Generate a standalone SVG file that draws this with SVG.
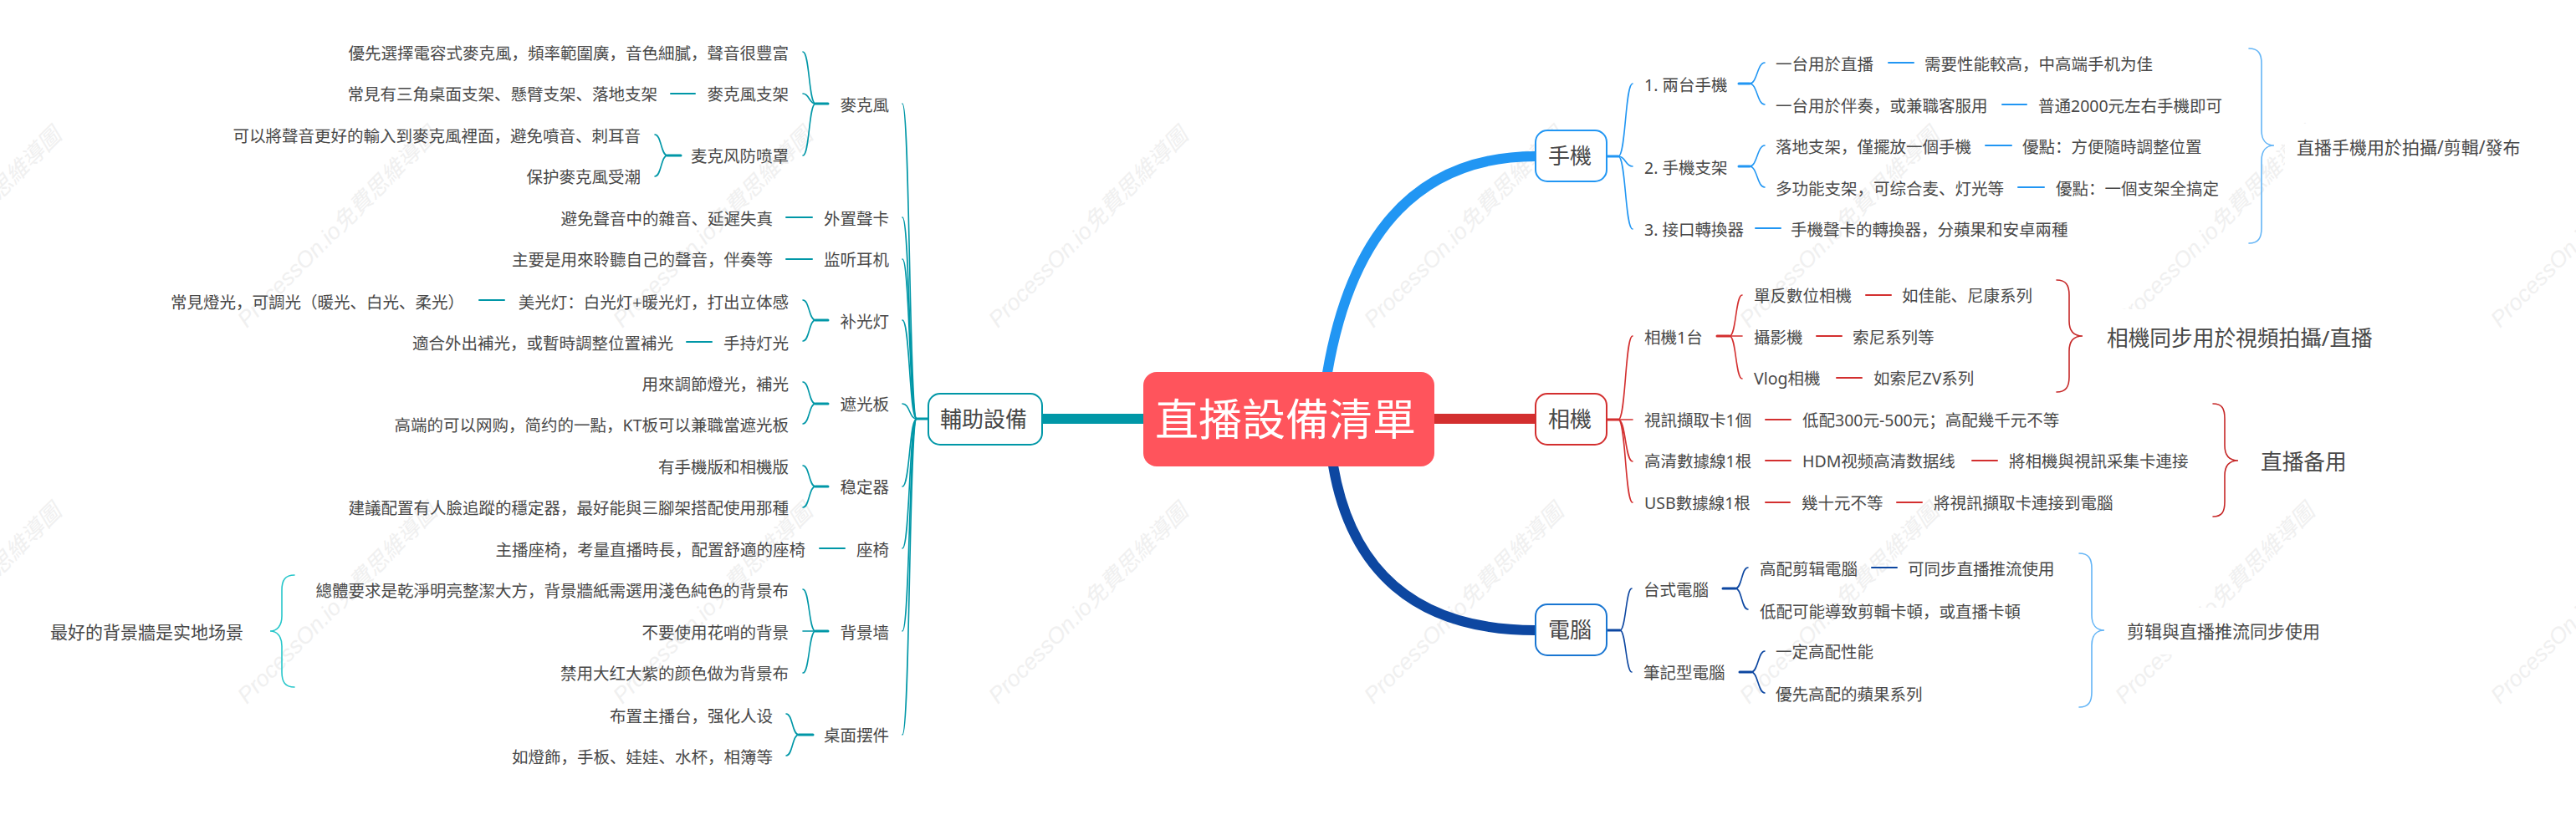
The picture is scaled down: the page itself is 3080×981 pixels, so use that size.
<svg xmlns="http://www.w3.org/2000/svg" width="3080" height="981" viewBox="0 0 3080 981">
<style>
text{font-family:"Noto Sans","Noto Sans CJK SC","Noto Sans CJK TC",sans-serif;fill:#484848}
.t{font-size:19.5px}
.e{font-size:19.5px;text-anchor:end}
.s{font-size:21px}
.b{font-size:25.7px}
.n{font-size:26px;text-anchor:middle}
.r{font-size:52px;text-anchor:middle;fill:#fff}
.w{font-family:"Liberation Sans","Noto Sans CJK SC",sans-serif;font-size:27px;font-style:italic;fill:#f0f0f0}
.box{fill:#fff;stroke-width:2}
path{fill:none;stroke-linecap:round}
.th{stroke-width:12;stroke-linecap:butt}
.bl path{stroke:#2196F3}.re path{stroke:#D32F2F}.db path{stroke:#0D47A1}.te path{stroke:#0097A7}
.c{stroke-width:1.6}.h{stroke-width:3}.d{stroke-width:2}
.br{stroke-width:1.6}
</style>
<g id="watermarks">
<text class="w" transform="translate(-154 393) rotate(-45)">ProcessOn.io免費思維導圖</text>
<text class="w" transform="translate(295 393) rotate(-45)">ProcessOn.io免費思維導圖</text>
<text class="w" transform="translate(744 393) rotate(-45)">ProcessOn.io免費思維導圖</text>
<text class="w" transform="translate(1193 393) rotate(-45)">ProcessOn.io免費思維導圖</text>
<text class="w" transform="translate(1642 393) rotate(-45)">ProcessOn.io免費思維導圖</text>
<text class="w" transform="translate(2091 393) rotate(-45)">ProcessOn.io免費思維導圖</text>
<text class="w" transform="translate(2540 393) rotate(-45)">ProcessOn.io免費思維導圖</text>
<text class="w" transform="translate(2989 393) rotate(-45)">ProcessOn.io免費思維導圖</text>
<text class="w" transform="translate(-154 843) rotate(-45)">ProcessOn.io免費思維導圖</text>
<text class="w" transform="translate(295 843) rotate(-45)">ProcessOn.io免費思維導圖</text>
<text class="w" transform="translate(744 843) rotate(-45)">ProcessOn.io免費思維導圖</text>
<text class="w" transform="translate(1193 843) rotate(-45)">ProcessOn.io免費思維導圖</text>
<text class="w" transform="translate(1642 843) rotate(-45)">ProcessOn.io免費思維導圖</text>
<text class="w" transform="translate(2091 843) rotate(-45)">ProcessOn.io免費思維導圖</text>
<text class="w" transform="translate(2540 843) rotate(-45)">ProcessOn.io免費思維導圖</text>
<text class="w" transform="translate(2989 843) rotate(-45)">ProcessOn.io免費思維導圖</text>
</g>
<g id="summary-backgrounds" fill="#fff">
<rect x="2732" y="148" width="300" height="56"/>
<rect x="2505" y="370" width="345" height="70"/>
<rect x="2690" y="518" width="128" height="70"/>
<rect x="2529" y="727" width="258" height="56"/>
<rect x="46" y="728" width="258" height="56"/>
</g>
<g id="connectors">
<g class="bl">
<path class="th" d="M1587 446C1612 300 1680 187 1836 187"/>
<path class="h" d="M1921 187H1935"/>
<path class="c" d="M1935 187C1944 187 1943 100 1952 100"/>
<path class="c" d="M1935 187C1944 187 1943 199 1952 199"/>
<path class="c" d="M1935 187C1944 187 1943 274 1952 274"/>
<path class="h" d="M2079 100H2092"/>
<path class="c" d="M2092 100C2101 100 2101 75 2110 75"/>
<path class="c" d="M2092 100C2101 100 2101 125 2110 125"/>
<path class="h" d="M2079 199H2092"/>
<path class="c" d="M2092 199C2101 199 2101 174 2110 174"/>
<path class="c" d="M2092 199C2101 199 2101 224 2110 224"/>
<path class="d" d="M2258 75H2288"/>
<path class="d" d="M2394 125H2423"/>
<path class="d" d="M2374 174H2405"/>
<path class="d" d="M2413 224H2444"/>
<path class="d" d="M2099 273H2129"/>
</g>
<g class="re">
<path class="th" d="M1715 501H1836"/>
<path class="h" d="M1921 502H1935"/>
<path class="c" d="M1935 502C1944 502 1943 402 1952 402"/>
<path class="c" d="M1935 502H1952"/>
<path class="c" d="M1935 502C1944 502 1943 552 1952 552"/>
<path class="c" d="M1935 502C1944 502 1943 601 1952 601"/>
<path class="h" d="M2053 402H2068"/>
<path class="c" d="M2068 402C2076 402 2075 353 2083 353"/>
<path class="c" d="M2068 402H2083"/>
<path class="c" d="M2068 402C2076 402 2075 453 2083 453"/>
<path class="d" d="M2231 353H2261"/>
<path class="d" d="M2172 402H2202"/>
<path class="d" d="M2196 452H2226"/>
<path class="d" d="M2111 502H2141"/>
<path class="d" d="M2111 551H2141"/>
<path class="d" d="M2358 551H2388"/>
<path class="d" d="M2111 601H2140"/>
<path class="d" d="M2268 601H2298"/>
</g>
<g class="db">
<path class="th" d="M1594 557C1615 680 1690 754 1836 754"/>
<path class="h" d="M1921 754H1937"/>
<path class="c" d="M1937 754C1944 754 1944 704 1951 704"/>
<path class="c" d="M1937 754C1944 754 1944 804 1951 804"/>
<path class="h" d="M2060 704H2075"/>
<path class="c" d="M2075 704C2083 704 2082 679 2090 679"/>
<path class="c" d="M2075 704C2083 704 2082 729 2090 729"/>
<path class="h" d="M2080 804H2094"/>
<path class="c" d="M2094 804C2102 804 2102 779 2110 779"/>
<path class="c" d="M2094 804C2102 804 2102 829 2110 829"/>
<path class="d" d="M2238 679H2268"/>
</g>
<g class="te">
<path class="th" d="M1246 501H1367"/>
<path class="h" d="M1110 501H1096"/>
<path class="c" d="M1096 501C1087 501 1088 124 1079 124"/>
<path class="c" d="M1096 501C1087 501 1088 260 1079 260"/>
<path class="c" d="M1096 501C1087 501 1088 310 1079 310"/>
<path class="c" d="M1096 501C1087 501 1088 383 1079 383"/>
<path class="c" d="M1096 501C1087 501 1088 483 1079 483"/>
<path class="c" d="M1096 501C1087 501 1088 582 1079 582"/>
<path class="c" d="M1096 501C1087 501 1088 656 1079 656"/>
<path class="c" d="M1096 501C1087 501 1088 755 1079 755"/>
<path class="c" d="M1096 501C1087 501 1088 879 1079 879"/>
<path class="h" d="M990 124H975"/>
<path class="c" d="M975 124C967 124 968 62 960 62"/>
<path class="c" d="M975 124C967 124 968 112 960 112"/>
<path class="c" d="M975 124C967 124 968 186 960 186"/>
<path class="h" d="M814 186H798"/>
<path class="c" d="M798 186C790 186 791 161 783 161"/>
<path class="c" d="M798 186C790 186 791 211 783 211"/>
<path class="d" d="M802 112H831"/>
<path class="d" d="M940 260H971"/>
<path class="d" d="M940 310H971"/>
<path class="h" d="M990 383H975"/>
<path class="c" d="M975 383C967 383 968 359 960 359"/>
<path class="c" d="M975 383C967 383 968 408 960 408"/>
<path class="d" d="M573 359H603"/>
<path class="d" d="M821 409H851"/>
<path class="h" d="M990 483H975"/>
<path class="c" d="M975 483C967 483 968 457 960 457"/>
<path class="c" d="M975 483C967 483 968 507 960 507"/>
<path class="h" d="M990 582H975"/>
<path class="c" d="M975 582C967 582 968 557 960 557"/>
<path class="c" d="M975 582C967 582 968 607 960 607"/>
<path class="d" d="M980 656H1010"/>
<path class="h" d="M990 755H975"/>
<path class="c" d="M975 755C967 755 968 705 960 705"/>
<path class="c" d="M975 755H960"/>
<path class="c" d="M975 755C967 755 968 805 960 805"/>
<path class="h" d="M972 879H955"/>
<path class="c" d="M955 879C947 879 948 854 940 854"/>
<path class="c" d="M955 879C947 879 948 904 940 904"/>
</g>
<g id="summary-braces">
<path class="br" stroke="#64B5F6" d="M2689 58C2700 58 2704 64 2704 76V156C2704 168 2710 174 2719 174C2710 174 2704 180 2704 192V273C2704 285 2700 291 2689 291"/>
<path class="br" stroke="#C62828" d="M2459 335C2470 335 2474 341 2474 353V384C2474 396 2480 402 2490 402C2480 402 2474 408 2474 420V451C2474 463 2470 469 2459 469"/>
<path class="br" stroke="#C62828" d="M2646 483C2657 483 2660 489 2660 501V533C2660 545 2666 551 2676 551C2666 551 2660 557 2660 569V600C2660 612 2657 618 2646 618"/>
<path class="br" stroke="#64B5F6" d="M2486 662C2497 662 2501 668 2501 680V736C2501 748 2507 754 2516 754C2507 754 2501 760 2501 772V828C2501 840 2497 846 2486 846"/>
<path class="br" stroke="#26C6CA" d="M352 688C341 688 337 694 337 706V737C337 749 331 755 323 755C331 755 337 761 337 773V804C337 816 341 822 352 822"/>
</g>
</g>
<g id="root"><rect x="1367" y="445" width="348" height="113" rx="16" fill="#FF545C"/><text class="r" x="1537" y="521">直播設備清單</text></g>
<g id="n-phone"><rect class="box" x="1836" y="156" width="85" height="61" rx="14" stroke="#2196F3"/><text class="n" x="1877" y="196">手機</text></g>
<g id="n-camera"><rect class="box" x="1836" y="471" width="85" height="61" rx="14" stroke="#D32F2F"/><text class="n" x="1877" y="511">相機</text></g>
<g id="n-pc"><rect class="box" x="1836" y="723" width="85" height="61" rx="14" stroke="#1976D2"/><text class="n" x="1877" y="763">電腦</text></g>
<g id="n-aux"><rect class="box" x="1110" y="471" width="136" height="61" rx="14" stroke="#0097A7"/><text class="n" x="1176" y="511">輔助設備</text></g>

<g id="phone-1"><text class="t" x="1966" y="109">1. 兩台手機</text></g>
<g id="phone-1a"><text class="t" x="2123" y="84">一台用於直播</text></g>
<g id="phone-1a1"><text class="t" x="2301" y="84">需要性能較高，中高端手机为佳</text></g>
<g id="phone-1b"><text class="t" x="2123" y="134">一台用於伴奏，或兼職客服用</text></g>
<g id="phone-1b1"><text class="t" x="2437" y="134">普通2000元左右手機即可</text></g>
<g id="phone-2"><text class="t" x="1966" y="208">2. 手機支架</text></g>
<g id="phone-2a"><text class="t" x="2123" y="183">落地支架，僅擺放一個手機</text></g>
<g id="phone-2a1"><text class="t" x="2418" y="183">優點：方便隨時調整位置</text></g>
<g id="phone-2b"><text class="t" x="2123" y="233">多功能支架，可综合麦、灯光等</text></g>
<g id="phone-2b1"><text class="t" x="2458" y="233">優點：一個支架全搞定</text></g>
<g id="phone-3"><text class="t" x="1966" y="282">3. 接口轉換器</text></g>
<g id="phone-3a"><text class="t" x="2141" y="282">手機聲卡的轉換器，分蘋果和安卓兩種</text></g>
<g id="phone-sum"><text class="s" x="2746" y="184">直播手機用於拍攝/剪輯/發布</text></g>

<g id="cam-1"><text class="t" x="1966" y="411">相機1台</text></g>
<g id="cam-1a"><text class="t" x="2097" y="361">單反數位相機</text></g>
<g id="cam-1a1"><text class="t" x="2274" y="361">如佳能、尼康系列</text></g>
<g id="cam-1b"><text class="t" x="2097" y="411">攝影機</text></g>
<g id="cam-1b1"><text class="t" x="2215" y="411">索尼系列等</text></g>
<g id="cam-1c"><text class="t" x="2097" y="460">Vlog相機</text></g>
<g id="cam-1c1"><text class="t" x="2240" y="460">如索尼ZV系列</text></g>
<g id="cam-sum1"><text class="b" x="2519" y="414">相機同步用於視頻拍攝/直播</text></g>
<g id="cam-2"><text class="t" x="1966" y="510">視訊擷取卡1個</text></g>
<g id="cam-2a"><text class="t" x="2155" y="510">低配300元-500元；高配幾千元不等</text></g>
<g id="cam-3"><text class="t" x="1966" y="559">高清數據線1根</text></g>
<g id="cam-3a"><text class="t" x="2155" y="559">HDM视频高清数据线</text></g>
<g id="cam-3b"><text class="t" x="2402" y="559">將相機與視訊采集卡連接</text></g>
<g id="cam-4"><text class="t" x="1966" y="609">USB數據線1根</text></g>
<g id="cam-4a"><text class="t" x="2154" y="609">幾十元不等</text></g>
<g id="cam-4b"><text class="t" x="2312" y="609">將視訊擷取卡連接到電腦</text></g>
<g id="cam-sum2"><text class="b" x="2703" y="562">直播备用</text></g>

<g id="pc-1"><text class="t" x="1965" y="713">台式電腦</text></g>
<g id="pc-1a"><text class="t" x="2104" y="688">高配剪辑電腦</text></g>
<g id="pc-1a1"><text class="t" x="2281" y="688">可同步直播推流使用</text></g>
<g id="pc-1b"><text class="t" x="2104" y="739">低配可能導致剪輯卡頓，或直播卡頓</text></g>
<g id="pc-2"><text class="t" x="1965" y="812">筆記型電腦</text></g>
<g id="pc-2a"><text class="t" x="2123" y="787">一定高配性能</text></g>
<g id="pc-2b"><text class="t" x="2123" y="838">優先高配的蘋果系列</text></g>
<g id="pc-sum"><text class="s" x="2543" y="763">剪辑與直播推流同步使用</text></g>

<g id="aux-mic"><text class="e" x="1063" y="133">麥克風</text></g>
<g id="aux-mic1"><text class="e" x="943" y="71">優先選擇電容式麥克風，頻率範圍廣，音色細膩，聲音很豐富</text></g>
<g id="aux-mic2"><text class="e" x="943" y="120">麥克風支架</text></g>
<g id="aux-mic2a"><text class="e" x="786" y="120">常見有三角桌面支架、懸臂支架、落地支架</text></g>
<g id="aux-mic3"><text class="e" x="943" y="194">麦克风防喷罩</text></g>
<g id="aux-mic3a"><text class="e" x="766" y="170">可以將聲音更好的輸入到麥克風裡面，避免噴音、刺耳音</text></g>
<g id="aux-mic3b"><text class="e" x="766" y="219">保护麥克風受潮</text></g>
<g id="aux-card"><text class="e" x="1063" y="269">外置聲卡</text></g>
<g id="aux-card1"><text class="e" x="924" y="269">避免聲音中的雜音、延遲失真</text></g>
<g id="aux-ear"><text class="e" x="1063" y="318">监听耳机</text></g>
<g id="aux-ear1"><text class="e" x="924" y="318">主要是用來聆聽自己的聲音，伴奏等</text></g>
<g id="aux-light"><text class="e" x="1063" y="392">补光灯</text></g>
<g id="aux-light1"><text class="e" x="943" y="369">美光灯：白光灯+暖光灯，打出立体感</text></g>
<g id="aux-light1a"><text class="e" x="555" y="369">常見燈光，可調光（暖光、白光、柔光）</text></g>
<g id="aux-light2"><text class="e" x="943" y="418">手持灯光</text></g>
<g id="aux-light2a"><text class="e" x="805" y="418">適合外出補光，或暫時調整位置補光</text></g>
<g id="aux-shade"><text class="e" x="1063" y="491">遮光板</text></g>
<g id="aux-shade1"><text class="e" x="943" y="467">用來調節燈光，補光</text></g>
<g id="aux-shade2"><text class="e" x="943" y="516">高端的可以网购，简约的一點，KT板可以兼職當遮光板</text></g>
<g id="aux-stab"><text class="e" x="1063" y="590">稳定器</text></g>
<g id="aux-stab1"><text class="e" x="943" y="566">有手機版和相機版</text></g>
<g id="aux-stab2"><text class="e" x="943" y="615">建議配置有人臉追蹤的穩定器，最好能與三腳架搭配使用那種</text></g>
<g id="aux-seat"><text class="e" x="1063" y="665">座椅</text></g>
<g id="aux-seat1"><text class="e" x="963" y="665">主播座椅，考量直播時長，配置舒適的座椅</text></g>
<g id="aux-wall"><text class="e" x="1063" y="764">背景墙</text></g>
<g id="aux-wall1"><text class="e" x="943" y="714">總體要求是乾淨明亮整潔大方，背景牆紙需選用淺色純色的背景布</text></g>
<g id="aux-wall2"><text class="e" x="943" y="764">不要使用花哨的背景</text></g>
<g id="aux-wall3"><text class="e" x="943" y="813">禁用大红大紫的颜色做为背景布</text></g>
<g id="aux-wall-sum"><text class="s" x="60" y="764">最好的背景牆是实地场景</text></g>
<g id="aux-desk"><text class="e" x="1063" y="887">桌面摆件</text></g>
<g id="aux-desk1"><text class="e" x="924" y="864">布置主播台，强化人设</text></g>
<g id="aux-desk2"><text class="e" x="924" y="913">如燈飾，手板、娃娃、水杯，相簿等</text></g>
</svg>
